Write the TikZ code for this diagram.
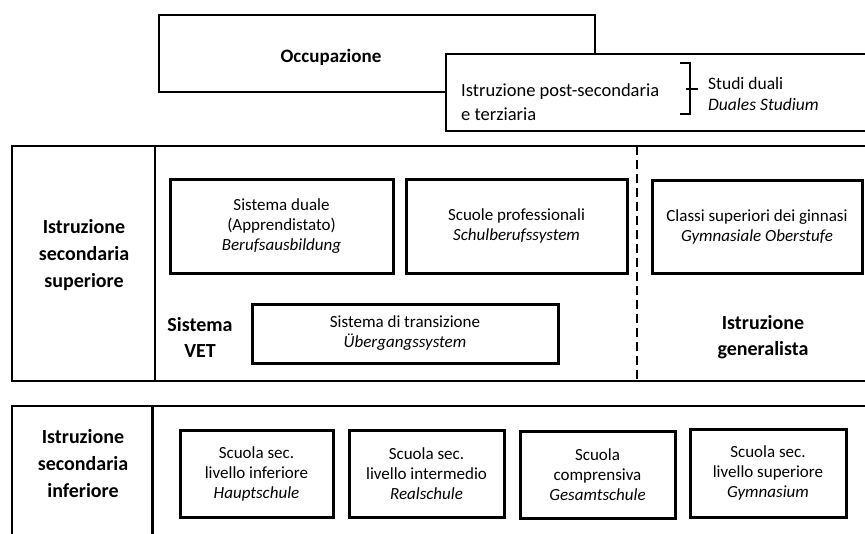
\documentclass[tikz,border=0pt]{standalone}
\usepackage{fontspec}
\setmainfont{Carlito}
\begin{document}
\begin{tikzpicture}[x=1pt,y=-1pt,
  boxtxt/.style={font=\fontsize{17}{20}\selectfont, align=center},
  ibox/.style={draw, line width=3pt, fill=white, boxtxt, inner sep=0pt},
  outerline/.style={line width=2.2pt},
  lbl/.style={font=\fontsize{20}{27}\selectfont\bfseries, align=center},
  sublbl/.style={font=\fontsize{20}{26}\selectfont\bfseries, align=center}]
\useasboundingbox (0,0) rectangle (865,533);
\begin{scope}
\clip (0,0) rectangle (865,533);
% top part
\node[draw, outerline, minimum width=436, minimum height=77, inner sep=0pt] (occ) at (377,53.5) {};
\node[font=\fontsize{19}{22}\selectfont\bfseries] (occtxt) at (331,57) {Occupazione};
\node[draw, outerline, fill=white, minimum width=455, minimum height=77, inner sep=0pt, anchor=north west] (post) at (445,53) {};
\node[anchor=west, align=left, font=\fontsize{18.5}{24}\selectfont, inner sep=0pt] (posttxt) at (461,102) {Istruzione post-secondaria\\e terziaria};
\draw[line width=1.6pt] (680,63) -- (690,63) -- (690,114) -- (680,114);
\draw[line width=1.6pt] (686,89) -- (698,89);
\node[anchor=west, align=left, font=\fontsize{17.5}{21}\selectfont, inner sep=0pt] (duali) at (708,94) {Studi duali\\\textit{Duales Studium}};
% upper secondary
\draw[outerline] (12,146) rectangle (900,381);
\coordinate (dtop) at (637,146);
\coordinate (dbot) at (637,381);
\coordinate (vtop) at (155,146);
\coordinate (vbot) at (155,381);
\draw[outerline] (vtop) -- (vbot);
\draw[line width=2.5pt, dash pattern=on 9pt off 5pt] (dtop) -- (dbot);
\node[lbl] (sup) at (84,255) {Istruzione\\secondaria\\superiore};
\node[ibox, minimum width=223, minimum height=94] (dual) at (281.5,226) {Sistema duale\\(Apprendistato)\\\textit{Berufsausbildung}};
\node[ibox, minimum width=221, minimum height=94] (prof) at (516.5,226) {Scuole professionali\\\textit{Schulberufssystem}};
\node[ibox, minimum width=210, minimum height=93] (gym) at (757,226.5) {Classi superiori dei ginnasi\\\textit{Gymnasiale Oberstufe}};
\node[sublbl] (vet) at (200,337) {Sistema\\VET};
\node[ibox, minimum width=306, minimum height=59] (trans) at (405,333.5) {Sistema di transizione\\\textit{Übergangssystem}};
\node[sublbl] (gen) at (763,337) {Istruzione\\generalista};
% lower secondary
\draw[outerline] (12,540) -- (12,406) -- (900,406);
\coordinate (ltop) at (152.5,406);
\coordinate (lbot) at (152.5,540);
\draw[outerline] (ltop) -- (lbot);
\node[lbl] (inf) at (83,464) {Istruzione\\secondaria\\inferiore};
\node[ibox, minimum width=153, minimum height=87] (haupt) at (256.5,473.5) {Scuola sec.\\livello inferiore\\\textit{Hauptschule}};
\node[ibox, minimum width=155, minimum height=87] (real) at (426.5,473.5) {Scuola sec.\\livello intermedio\\\textit{Realschule}};
\node[ibox, minimum width=155, minimum height=87] (ges) at (597.5,474.5) {Scuola\\comprensiva\\\textit{Gesamtschule}};
\node[ibox, minimum width=156, minimum height=88] (gymn) at (768,473) {Scuola sec.\\livello superiore\\\textit{Gymnasium}};
\end{scope}
\end{tikzpicture}
\end{document}
